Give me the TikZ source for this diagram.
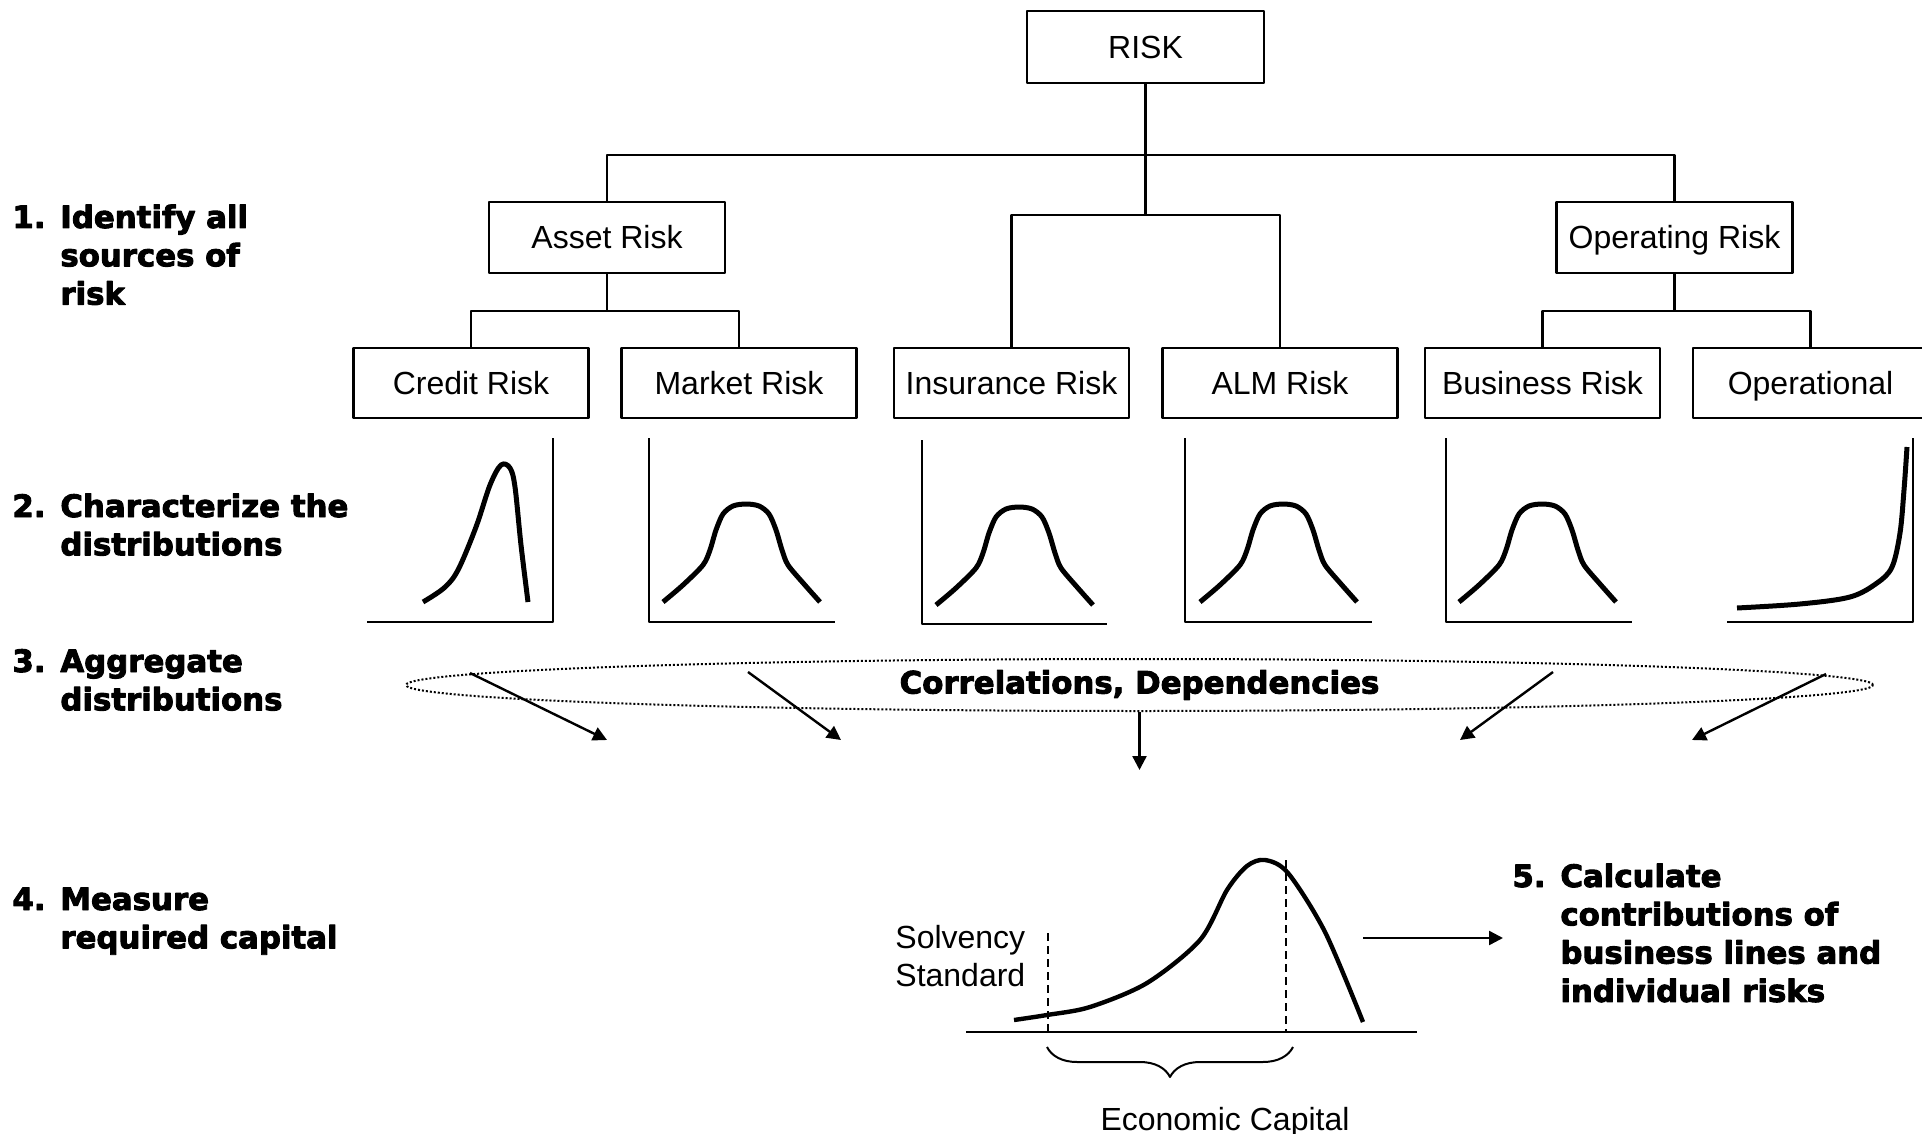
\documentclass[tikz,border=0pt]{standalone}
\usepackage{fontspec}
\setmainfont{Liberation Sans}
\newfontfamily\heavyfont{DejaVu Sans}[BoldFeatures={FakeBold=3}]
\usetikzlibrary{arrows.meta,decorations.pathreplacing,shapes.geometric}

\tikzset{
	riskbox/.style={draw, line width=1.2pt, minimum width=117.5pt, minimum height=35pt, inner sep=0pt, text height=11.5pt, text depth=0pt},
	tree/.style={line width=1.2pt},
	axes/.style={line width=1pt},
	density/.style={line width=2.5pt, line join=round, line cap=butt},
	stagetext/.style={anchor=base west, inner sep=0pt, font=\heavyfont\bfseries\fontsize{15.4}{19.15}\selectfont},
	aggarrow/.style={line width=1.2pt, -{Triangle[length=7pt, width=7pt]}},
}

\begin{document}
\begin{tikzpicture}[x=0.5pt, y=-0.5pt, font=\fontsize{16}{19}\selectfont, line join=round]
		\useasboundingbox (0,0) rectangle (1922,1134);
		\node[riskbox, minimum width=118.5pt, minimum height=36pt] (risk) at (1145.5,47) {RISK};
		\node[riskbox, minimum width=118pt, minimum height=35.5pt] (asset) at (607,237.5) {Asset Risk};
		\node[riskbox, minimum width=118pt, minimum height=35.5pt] (operating) at (1674.5,237.5) {Operating Risk};
		\node[riskbox] (credit) at (471,383) {Credit Risk};
		\node[riskbox] (market) at (739,383) {Market Risk};
		\node[riskbox] (insurance) at (1011.5,383) {Insurance Risk};
		\node[riskbox] (alm) at (1280,383) {ALM Risk};
		\node[riskbox] (business) at (1542.5,383) {Business Risk};
		\node[riskbox] (operational) at (1810.5,383) {Operational};
		\coordinate (split) at (1145.5,155);
		\coordinate (midsplit) at (1145.5,215);
		\coordinate (assetsplit) at (607,311);
		\coordinate (opsplit) at (1674.5,311);
		\draw[tree] (risk.south) -- (midsplit);
		\draw[tree] (asset.north) |- (split) -| (operating.north);
		\draw[tree] (insurance.north) |- (midsplit) -| (alm.north);
		\draw[tree] (asset.south) -- (assetsplit);
		\draw[tree] (credit.north) |- (assetsplit) -| (market.north);
		\draw[tree] (operating.south) -- (opsplit);
		\draw[tree] (business.north) |- (opsplit) -| (operational.north);

		\draw[axes] (367,622) -- (553,622) -- (553,438);
		\draw[axes] (649,438) -- (649,622) -- (835,622);
		\draw[axes] (922,440) -- (922,624) -- (1107,624);
		\draw[axes] (1185,438) -- (1185,622) -- (1372,622);
		\draw[axes] (1446,438) -- (1446,622) -- (1632,622);
		\draw[axes] (1727,622) -- (1913,622) -- (1913,438);
		\draw[density] plot[smooth, tension=0.55] coordinates {(423,602) (444,588) (458,570) (476,527) (490,485) (501,465) (510,468) (515,487) (521,545) (528,602)};
		\foreach \x/\y in {663/602, 936/605, 1200/602, 1459/602}
			\draw[density, shift={(\x,\y)}] plot[smooth, tension=0.5] coordinates {(0,0) (20,-17) (40,-37) (47,-52) (53,-72) (60,-88) (70,-96) (83,-98) (96,-96) (106,-88) (113,-72) (119,-52) (125,-37) (141,-18) (157,0)};
		\draw[density] plot[smooth, tension=0.55] coordinates {(1737,608) (1800,604) (1850,597) (1877,583) (1892,567) (1900,533) (1904,490) (1907,447)};

		\node[ellipse, draw, line width=1pt, dash pattern=on 1pt off 1pt, minimum width=733.5pt, minimum height=26pt, inner sep=0pt, font=\heavyfont\bfseries\fontsize{15.4}{19.15}\selectfont] (corr) at (1139.5,685) {Correlations, Dependencies};
		\coordinate (c1) at (470,673);
		\coordinate (c2) at (748,672);
		\coordinate (c4) at (1553,672);
		\coordinate (c5) at (1826,674);
		\coordinate (t1) at (607,740);
		\coordinate (t2) at (841,740);
		\coordinate (t3) at (1139.5,770);
		\coordinate (t4) at (1460,740);
		\coordinate (t5) at (1692,740);
		\draw[aggarrow] (c1) -- (t1);
		\draw[aggarrow] (c2) -- (t2);
		\draw[aggarrow] (corr.south) -- (t3);
		\draw[aggarrow] (c4) -- (t4);
		\draw[aggarrow] (c5) -- (t5);

		\draw[axes] (966,1032) -- (1417,1032);
		\draw[line width=2.2pt, line cap=butt] plot[smooth, tension=0.5] coordinates {(1014,1020) (1047,1015) (1090,1007) (1147,983) (1200,940) (1227,890) (1247,866) (1265,860) (1288,873) (1325,932) (1363,1022)};
		\draw[line width=0.8pt, dash pattern=on 4pt off 2.5pt] (1048,933) -- (1048,1032);
		\draw[line width=0.8pt, dash pattern=on 4pt off 2.5pt] (1286,860) -- (1286,1032);
		\draw[line width=1pt, decorate, decoration={brace, mirror, amplitude=15pt}] (1047,1047) -- (1293,1047);
		\node[anchor=base west, inner sep=0pt] (solvency) at (895,948) {\begin{tabular}[t]{@{}l@{}}Solvency\\Standard\end{tabular}};
		\node[anchor=base, inner sep=0pt] (ecap) at (1225,1130) {Economic Capital};
		\coordinate (capout) at (1363,938);
		\coordinate (capin) at (1503,938);
		\draw[aggarrow] (capout) -- (capin);

		\node[stagetext] (stage1) at (12,228) {\begin{tabular}[t]{@{}p{24pt}@{}l@{}}1. & Identify all\\ & sources of\\ & risk\end{tabular}};
		\node[stagetext] (stage2) at (12,517) {\begin{tabular}[t]{@{}p{24pt}@{}l@{}}2. & Characterize the\\ & distributions\end{tabular}};
		\node[stagetext] (stage3) at (12,672) {\begin{tabular}[t]{@{}p{24pt}@{}l@{}}3. & Aggregate\\ & distributions\end{tabular}};
		\node[stagetext] (stage4) at (12,910) {\begin{tabular}[t]{@{}p{24pt}@{}l@{}}4. & Measure\\ & required capital\end{tabular}};
		\node[stagetext] (stage5) at (1512,887) {\begin{tabular}[t]{@{}p{24pt}@{}l@{}}5. & Calculate\\ & contributions of\\ & business lines and\\ & individual risks\end{tabular}};
\end{tikzpicture}
\end{document}
